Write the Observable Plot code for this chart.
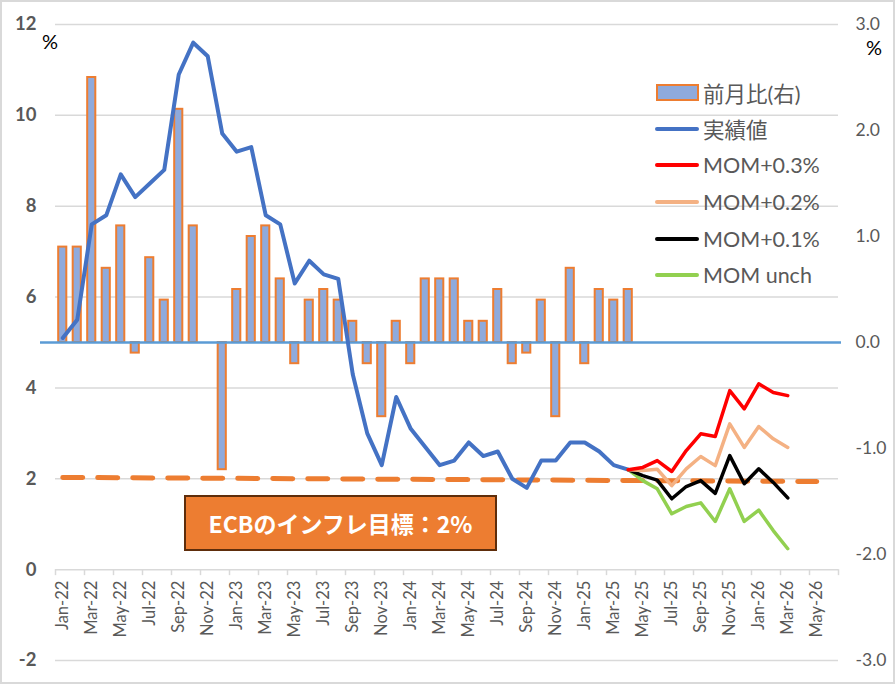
<!DOCTYPE html>
<html>
<head>
<meta charset="utf-8">
<script src="https://cdn.jsdelivr.net/npm/d3@7"></script>
<script src="https://cdn.jsdelivr.net/npm/@observablehq/plot@0.6"></script>
<style>
  body { margin: 0; background: white; }
  #wrap { position: relative; width: 895px; height: 684px; overflow: hidden; font-family: Lato, "Noto Sans CJK JP", sans-serif; }
  #chart { position: absolute; left: 0; top: 0; }
  #frame { position: absolute; left: 0; top: 0; width: 895px; height: 684px; box-sizing: border-box; border: 2px solid #D9D9D9; pointer-events: none; }
  .pct { position: absolute; font-size: 20px; color: #000; line-height: 1; }
  #legend { position: absolute; left: 655px; top: 74px; }
  .row { display: flex; align-items: center; height: 36.6px; font-size: 21.5px; color: #595959; white-space: nowrap; }
  .sw { width: 44px; margin-right: 4px; display: flex; align-items: center; justify-content: center; }
  .sw .ln { width: 44px; height: 4px; border-radius: 2px; }
  .sw .bx { width: 39px; height: 13px; background: #8FAADC; border: 2px solid #ED7D31; }
  #note { position: absolute; left: 184px; top: 495px; width: 313px; height: 56px; box-sizing: border-box; background: #ED7D31; border: 2.5px solid #5E2D0B; color: white; font-weight: bold; font-size: 23px; display: flex; align-items: center; justify-content: center; font-family: "Noto Sans CJK JP", sans-serif; }
</style>
</head>
<body>
<div id="wrap">
  <div id="chart"></div>
  <div class="pct" style="left:42px;top:31px;">%</div>
  <div class="pct" style="left:866px;top:37px;">%</div>
  <div id="legend"></div>
  <div id="note">ECBのインフレ目標：2%</div>
  <div id="frame"></div>
</div>
<script>
// Categories (monthly)
const months = [
  "Jan-22","Feb-22","Mar-22","Apr-22","May-22","Jun-22","Jul-22","Aug-22","Sep-22","Oct-22","Nov-22","Dec-22",
  "Jan-23","Feb-23","Mar-23","Apr-23","May-23","Jun-23","Jul-23","Aug-23","Sep-23","Oct-23","Nov-23","Dec-23",
  "Jan-24","Feb-24","Mar-24","Apr-24","May-24","Jun-24","Jul-24","Aug-24","Sep-24","Oct-24","Nov-24","Dec-24",
  "Jan-25","Feb-25","Mar-25","Apr-25","May-25","Jun-25","Jul-25","Aug-25","Sep-25","Oct-25","Nov-25","Dec-25",
  "Jan-26","Feb-26","Mar-26","Apr-26","May-26","Jun-26"
];
// Actual YoY (%), Jan-22 .. Apr-25 (left axis)
const actual = [5.1,5.5,7.6,7.8,8.7,8.2,8.5,8.8,10.9,11.6,11.3,9.6,
  9.2,9.3,7.8,7.6,6.3,6.8,6.5,6.4,4.3,3.0,2.3,3.8,
  3.1,2.7,2.3,2.4,2.8,2.5,2.6,2.0,1.8,2.4,2.4,2.8,
  2.8,2.6,2.3,2.2];
// Month-on-month (%), Jan-22 .. Apr-25 (right axis)
const mom = [0.9,0.9,2.5,0.7,1.1,-0.1,0.8,0.4,2.2,1.1,null,-1.2,
  0.5,1.0,1.1,0.6,-0.2,0.4,0.5,0.4,0.2,-0.2,-0.7,0.2,
  -0.2,0.6,0.6,0.6,0.2,0.2,0.5,-0.2,-0.1,0.4,-0.7,0.7,
  -0.2,0.5,0.4,0.5];
// Scenario paths, Apr-25 .. Mar-26
const fcMonths = ["Apr-25","May-25","Jun-25","Jul-25","Aug-25","Sep-25","Oct-25","Nov-25","Dec-25","Jan-26","Feb-26","Mar-26"];
const mom03 = [2.2,2.25,2.4,2.16,2.62,2.99,2.93,3.94,3.54,4.09,3.9,3.83];
const mom02 = [2.2,2.18,2.21,1.85,2.22,2.49,2.29,3.21,2.69,3.15,2.88,2.69];
const mom01 = [2.2,2.07,1.97,1.56,1.83,1.96,1.68,2.51,1.89,2.22,1.92,1.58];
const momUnch = [2.2,1.96,1.78,1.23,1.39,1.47,1.06,1.78,1.06,1.31,0.86,0.46];
// ECB target line
const targetMonths = ["Jan-22","May-26"];
const targetValues = [2.03, 1.94];
// Axis ticks
const leftTicks = [-2,0,2,4,6,8,10,12];
const rightTicks = [-3,-2,-1,0,1,2,3];

// right axis (-3..3) mapped onto left axis (-2..12)
const toLeft = r => 5 + r * 14 / 6;
const fromLeft = v => (v - 5) * 6 / 14;
const idx = m => months.indexOf(m);

const actualData = actual.map((v, i) => ({i, v}));
const barData = mom.map((v, i) => ({i, v})).filter(d => d.v != null);
const series = [
  {name: "MOM+0.3%", values: mom03, color: "#FF0000"},
  {name: "MOM+0.2%", values: mom02, color: "#F4B183"},
  {name: "MOM+0.1%", values: mom01, color: "#000000"},
  {name: "MOM unch", values: momUnch, color: "#92D050"}
];
const targetData = targetMonths.map((m, k) => ({i: idx(m), v: targetValues[k]}));
const tickIdx = d3.range(0, months.length + 1, 2);
const labelIdx = d3.range(0, months.length, 2);

const chart = Plot.plot({
  width: 895,
  height: 684,
  marginLeft: 55,
  marginRight: 57,
  marginTop: 24,
  marginBottom: 24,
  x: {type: "linear", domain: [0, months.length], axis: null},
  y: {domain: [-2, 12], axis: null},
  style: {fontFamily: "Lato, 'Noto Sans CJK JP', sans-serif", background: "transparent"},
  marks: [
    Plot.gridY(leftTicks, {stroke: "#D9D9D9", strokeOpacity: 1, strokeWidth: 1.5}),
    Plot.axisY({ticks: leftTicks, tickFormat: d => String(d), tickSize: 0, tickPadding: 19, fontSize: 18.5, fontWeight: "bold", fill: "#595959", label: null}),
    Plot.axisY({anchor: "right", ticks: rightTicks.map(toLeft), tickFormat: v => fromLeft(v).toFixed(1),
      tickSize: 0, tickPadding: 17, fontSize: 17.5, fill: "#595959", label: null}),
    Plot.ruleX(tickIdx, {x: d => d, y1: 0, y2: -0.132, stroke: "#D9D9D9", strokeWidth: 1.5}),
    Plot.text(labelIdx, {x: d => d + 0.5, y: 0, text: d => months[d], rotate: -90, textAnchor: "end",
      lineAnchor: "middle", dy: 11, fontSize: 16.5, fill: "#595959"}),
    Plot.rectY(barData, {x1: d => d.i + 0.22, x2: d => d.i + 0.78, y1: toLeft(0), y2: d => toLeft(d.v),
      fill: "#8FAADC", stroke: "#ED7D31", strokeWidth: 2}),
    Plot.ruleY([toLeft(0)], {stroke: "#5B9BD5", strokeWidth: 2.5, insetLeft: -15, insetRight: -3}),
    Plot.line(targetData, {x: d => d.i + 0.5, y: "v", stroke: "#ED7D31", strokeWidth: 5, strokeDasharray: "20,15"}),
    Plot.line(actualData, {x: d => d.i + 0.5, y: "v", stroke: "#4472C4", strokeWidth: 4}),
    ...series.slice().reverse().map(s =>
      Plot.line(s.values.map((v, k) => ({i: idx(fcMonths[k]), v})),
        {x: d => d.i + 0.5, y: "v", stroke: s.color, strokeWidth: 3.5}))
  ]
});
document.getElementById("chart").appendChild(chart);

// Legend
const legendItems = [
  {name: "前月比(右)", type: "bar"},
  {name: "実績値", type: "line", color: "#4472C4"},
  ...series.map(s => ({name: s.name, type: "line", color: s.color}))
];
const legend = document.getElementById("legend");
for (const it of legendItems) {
  const row = document.createElement("div");
  row.className = "row";
  const sw = document.createElement("div");
  sw.className = "sw";
  const inner = document.createElement("div");
  if (it.type === "bar") inner.className = "bx";
  else { inner.className = "ln"; inner.style.background = it.color; }
  sw.appendChild(inner);
  const tx = document.createElement("span");
  tx.textContent = it.name;
  row.appendChild(sw);
  row.appendChild(tx);
  legend.appendChild(row);
}
</script>
</body>
</html>
